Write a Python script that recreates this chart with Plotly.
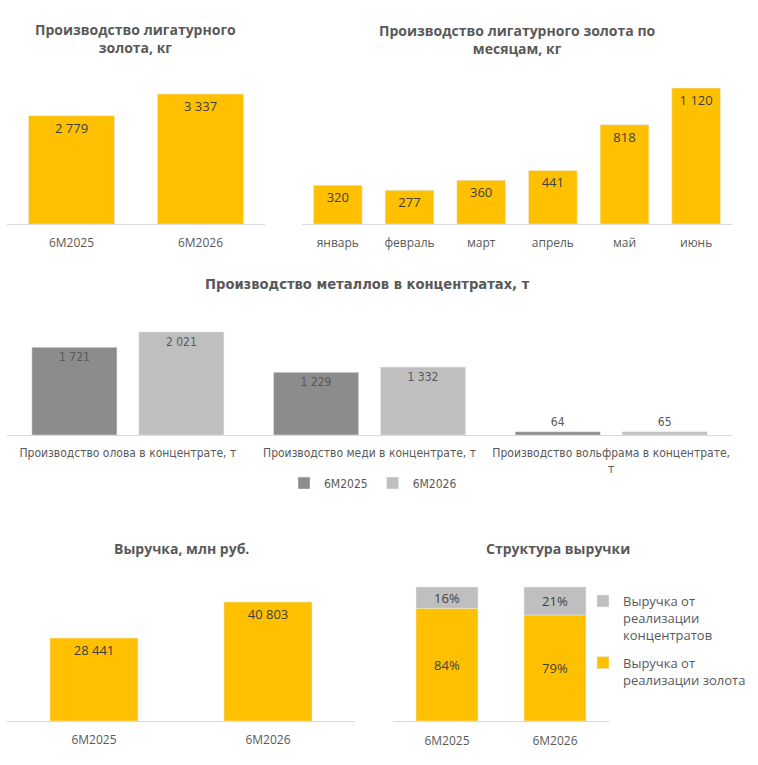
import plotly.graph_objects as go

W, H = 758, 765

# ---------------- data ----------------
gold_years = ["6M2025", "6M2026"]
gold_kg = [2779, 3337]

months = ["январь", "февраль", "март", "апрель", "май", "июнь"]
month_kg = [320, 277, 360, 441, 818, 1120]

metal_cats = [
    "Производство олова в концентрате, т",
    "Производство меди в концентрате, т",
    "Производство вольфрама в концентрате,<br>т",
]
metal_2025 = [1721, 1229, 64]
metal_2026 = [2021, 1332, 65]

rev_years = ["6M2025", "6M2026"]
revenue = [28441, 40803]

struct_years = ["6M2025", "6M2026"]
share_gold = [84, 79]
share_conc = [16, 21]

titles = [
    "Производство лигатурного<br>золота, кг",
    "Производство лигатурного золота по<br>месяцам, кг",
    "Производство металлов в концентратах, т",
    "Выручка, млн руб.",
    "Структура выручки",
]

# ---------------- style ----------------
GOLD = "#FFC000"
DARK = "#8C8C8C"
LIGHT = "#BFBFBF"
TXT = "#404040"
LBL = "#595959"
FONT = "Open Sans, Liberation Sans, sans-serif"
NARROW = "Liberation Sans Narrow, DejaVu Sans Condensed, Open Sans, sans-serif"


def px_x(x):
    return x / W


def px_y(y):
    return 1 - y / H


fig = go.Figure()

val_font = dict(family=FONT, size=13, color=TXT)
common = dict(textposition="inside", insidetextanchor="end", constraintext="none",
              cliponaxis=False)

# chart 1
fig.add_trace(go.Bar(x=gold_years, y=gold_kg, marker_color=GOLD, width=0.667,
                     texttemplate="%{y:,}", textfont=val_font, xaxis="x", yaxis="y",
                     showlegend=False, **common))
# chart 2
fig.add_trace(go.Bar(x=months, y=month_kg, marker_color=GOLD, width=0.68,
                     texttemplate="%{y:,}", textfont=val_font, xaxis="x2", yaxis="y2",
                     showlegend=False, **common))
# chart 3
n_font = dict(family=NARROW, size=12, color=LBL)
fig.add_trace(go.Bar(x=metal_cats, y=metal_2025, name="6M2025", marker_color=DARK,
                     width=0.352, offset=-0.397,
                     texttemplate="%{y:,}", textposition="auto", insidetextanchor="end",
                     textfont=n_font, constraintext="none", cliponaxis=False,
                     xaxis="x3", yaxis="y3", legend="legend"))
fig.add_trace(go.Bar(x=metal_cats, y=metal_2026, name="6M2026", marker_color=LIGHT,
                     width=0.352, offset=0.0455,
                     texttemplate="%{y:,}", textposition="auto", insidetextanchor="end",
                     textfont=n_font, constraintext="none", cliponaxis=False,
                     xaxis="x3", yaxis="y3", legend="legend"))
# chart 4
fig.add_trace(go.Bar(x=rev_years, y=revenue, marker_color=GOLD, width=0.506,
                     texttemplate="%{y:,}", textfont=val_font, xaxis="x4", yaxis="y4",
                     showlegend=False, **common))
# chart 5 (concentrates segment stacked on top of gold segment)
fig.add_trace(go.Bar(x=struct_years, y=share_conc, base=share_gold,
                     name="Выручка от<br>реализации<br>концентратов",
                     marker_color=LIGHT, width=0.574, legendgroup="conc",
                     texttemplate="%{y}%", textposition="inside", insidetextanchor="middle",
                     constraintext="none", textfont=val_font, xaxis="x5", yaxis="y5",
                     legend="legend2"))
fig.add_trace(go.Bar(x=struct_years, y=share_gold, name="Выручка от<br>реализации золота",
                     marker_color=GOLD, width=0.574, legendgroup="gold",
                     texttemplate="%{y}%", textposition="inside", insidetextanchor="middle",
                     constraintext="none", textfont=val_font, xaxis="x5", yaxis="y5",
                     legend="legend2"))


# ---------------- axes ----------------
def xax(x0, x1, n, standoff, fam=FONT, size=12):
    return dict(domain=[px_x(x0), px_x(x1)], type="category",
                range=[-0.5, n - 0.5], showline=True, linecolor="#D9D9D9", linewidth=1,
                ticks="", showgrid=False, zeroline=False, fixedrange=True,
                tickfont=dict(family=fam, size=size, color=LBL),
                ticklabelstandoff=standoff)


def yax(y_top, y_base, top):
    return dict(domain=[px_y(y_base), px_y(y_top)], range=[0, top], visible=False,
                showgrid=False, zeroline=False, fixedrange=True)


layout_axes = {
    "xaxis": {**xax(7, 265, 2, 8), "anchor": "y"},
    "yaxis": {**yax(80, 224, 3696), "anchor": "x"},
    "xaxis2": {**xax(302, 732, 6, 8), "anchor": "y2"},
    "yaxis2": {**yax(80, 224, 1186), "anchor": "x2"},
    "xaxis3": {**xax(7, 732, 3, 7, NARROW, 12), "anchor": "y3"},
    "yaxis3": {**yax(310, 435, 2452), "anchor": "x3"},
    "xaxis4": {**xax(7, 355, 2, 8), "anchor": "y4"},
    "yaxis4": {**yax(580, 721, 48350), "anchor": "x4"},
    "xaxis5": {**xax(393, 609, 2, 9), "anchor": "y5"},
    "yaxis5": {**yax(580, 721, 105.2), "anchor": "x5"},
}

title_pos = [(135, 38.5), (517, 39), (367, 283), (181, 548), (558, 548)]
title_fonts = [FONT, FONT, NARROW, FONT, FONT]
title_sizes = [14, 14, 14.6, 14, 14]
annotations = []
for t, (cx, cy), fam, sz in zip(titles, title_pos, title_fonts, title_sizes):
    annotations.append(dict(text="<b>" + t + "</b>", x=px_x(cx), y=px_y(cy), xref="paper",
                            yref="paper", xanchor="center", yanchor="middle",
                            showarrow=False, font=dict(family=fam, size=sz, color=LBL)))

fig.update_layout(
    width=W, height=H, margin=dict(l=0, r=0, t=0, b=0),
    paper_bgcolor="white", plot_bgcolor="white",
    barmode="overlay", separators=", ",
    font=dict(family=FONT, size=12, color=LBL),
    annotations=annotations,
    legend=dict(orientation="h", x=px_x(373), xanchor="center", y=px_y(483), yanchor="middle",
                font=dict(family=NARROW, size=12, color=LBL), bgcolor="rgba(0,0,0,0)",
                traceorder="normal", itemwidth=30),
    legend2=dict(orientation="v", x=px_x(583), xanchor="left", y=px_y(586), yanchor="top",
                 font=dict(family=FONT, size=13, color=LBL), bgcolor="rgba(0,0,0,0)",
                 traceorder="grouped", tracegroupgap=8, valign="top",
                 itemwidth=30),
    **layout_axes,
)

fig.write_html("out.html")
